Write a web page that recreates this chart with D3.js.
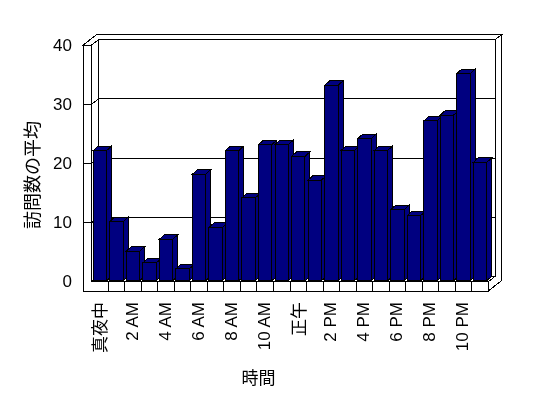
<!DOCTYPE html>
<html><head><meta charset="utf-8">
<script src="https://cdn.jsdelivr.net/npm/d3@7"></script>
<style>body{margin:0;background:#fff}svg{display:block}text{-webkit-font-smoothing:antialiased}</style>
</head><body>
<script>
const categories = ["真夜中","1 AM","2 AM","3 AM","4 AM","5 AM","6 AM","7 AM","8 AM","9 AM","10 AM","11 AM",
  "正午","1 PM","2 PM","3 PM","4 PM","5 PM","6 PM","7 PM","8 PM","9 PM","10 PM","11 PM"];
const values = [22,10,5,3,7,2,18,9,22,14,23,23,21,17,33,22,24,22,12,11,27,28,35,20];
const shownLabels = ["真夜中","2 AM","4 AM","6 AM","8 AM","10 AM","正午","2 PM","4 PM","6 PM","8 PM","10 PM"];
const yTicks = [0,10,20,30,40];
const gridValues = [10,20,30];
const yTitle = "訪問数の平均";
const xTitle = "時間";

const W = 548, H = 398;
const svg = d3.select("body").append("svg").attr("width", W).attr("height", H)
  .attr("font-family", "'Liberation Sans','Noto Sans CJK JP',sans-serif");

const x = d3.scaleBand().domain(categories).range([91.7, 488.3]).paddingInner(0.19).paddingOuter(0.095);
const y = d3.scaleLinear().domain([0, 40]).range([281.7, 45]);
const [xL, xR] = x.range();
const outerL = 83.3, floorBottom = 291;
const D1 = {dx: 6.7, dy: -5.3}, D2 = {dx: 13.4, dy: -10.5};
const bD = {dx: 5, dy: -4.5};
const y0 = y(0), yTop = y(40);

const g = svg.append("g").attr("stroke", "#000").attr("stroke-width", 1).attr("fill", "#fff")
  .attr("shape-rendering", "crispEdges").attr("stroke-linejoin", "miter");
const poly = (pts) => g.append("polygon").attr("points", pts.map(p => p.join(",")).join(" "));

poly([[outerL, yTop],[xL, yTop],[xL + D1.dx, yTop + D1.dy],[xR + D1.dx, yTop + D1.dy],[xR + D2.dx, yTop + D2.dy],[outerL + D2.dx, yTop + D2.dy]]);
poly([[xL + D1.dx, yTop + D1.dy],[xR + D1.dx, yTop + D1.dy],[xR + D1.dx, y0 + D1.dy],[xL + D1.dx, y0 + D1.dy]]);
poly([[xL, yTop],[xL + D1.dx, yTop + D1.dy],[xL + D1.dx, y0 + D1.dy],[xL, y0]]);
poly([[xL, y0],[xR, y0],[xR + D1.dx, y0 + D1.dy],[xL + D1.dx, y0 + D1.dy]]);
poly([[outerL, yTop],[xL, yTop],[xL, y0],[xR, y0],[xR, floorBottom],[outerL, floorBottom]]);
poly([[xR, y0],[xR + D1.dx, y0 + D1.dy],[xR + D1.dx, yTop + D1.dy],[xR + D2.dx, yTop + D2.dy],[xR + D2.dx, floorBottom + D2.dy],[xR, floorBottom]]);

const step = x.step();
d3.range(1, categories.length).forEach(k => {
  const xx = xL + k * step;
  g.append("line").attr("x1", xx).attr("x2", xx).attr("y1", y0).attr("y2", floorBottom);
});

gridValues.forEach(v => {
  const yy = y(v);
  g.append("line").attr("x1", outerL).attr("x2", xL).attr("y1", yy).attr("y2", yy);
  g.append("line").attr("x1", xL).attr("x2", xL + D1.dx).attr("y1", yy).attr("y2", yy + D1.dy);
  g.append("line").attr("x1", xL + D1.dx).attr("x2", xR + D1.dx).attr("y1", yy + D1.dy).attr("y2", yy + D1.dy);
});

const bw = x.bandwidth();
const bars = g.append("g").attr("fill", "#000080");
categories.forEach((c, i) => {
  const x0 = x(c), yb = y(0) - 1, yt = y(values[i]) - 1;
  const bg = bars.append("g");
  bg.append("polygon").attr("points", [[x0 + bw, yt],[x0 + bw + bD.dx, yt + bD.dy],[x0 + bw + bD.dx, yb + bD.dy],[x0 + bw, yb]].map(p => p.join(",")).join(" "));
  bg.append("polygon").attr("points", [[x0, yt],[x0 + bw, yt],[x0 + bw + bD.dx, yt + bD.dy],[x0 + bD.dx, yt + bD.dy]].map(p => p.join(",")).join(" "));
  bg.append("rect").attr("x", x0).attr("y", yt).attr("width", bw).attr("height", yb - yt);
});

const labels = svg.append("g").attr("opacity", 0.999);
labels.append("g").selectAll("text").data(yTicks).join("text")
  .attr("x", 72).attr("y", d => y(d)).attr("text-anchor", "end").attr("dominant-baseline", "central")
  .attr("font-size", 17).attr("fill", "#000000").text(d => d);

labels.append("g").selectAll("text").data(shownLabels).join("text")
  .attr("transform", d => `translate(${x(d) + bw / 2 - 1},302) rotate(-90)`)
  .attr("text-anchor", "end").attr("dominant-baseline", "central")
  .attr("font-family", d => /[A-Z0-9]/.test(d) ? "'Liberation Sans',sans-serif" : "'Noto Sans CJK JP',sans-serif")
  .attr("font-size", 17).attr("fill", "#000000").text(d => d);

labels.append("text").attr("transform", "translate(31,175) rotate(-90)")
  .attr("font-family", "'Noto Sans CJK JP',sans-serif")
  .attr("text-anchor", "middle").attr("dominant-baseline", "central")
  .attr("font-size", 18).attr("fill", "#000000").text(yTitle);
labels.append("text").attr("x", 258.5).attr("y", 376)
  .attr("font-family", "'Noto Sans CJK JP',sans-serif")
  .attr("text-anchor", "middle").attr("dominant-baseline", "central")
  .attr("font-size", 17).attr("fill", "#000000").text(xTitle);
</script>
</body></html>
